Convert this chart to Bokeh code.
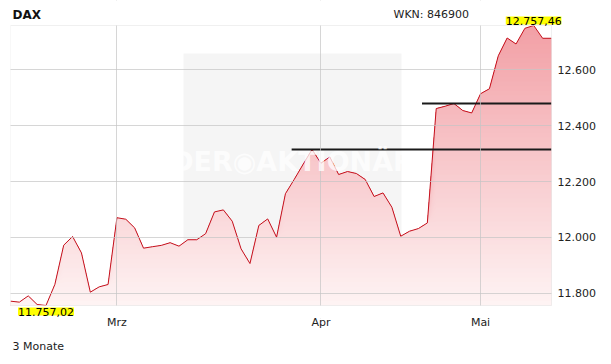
import numpy as np
from bokeh.plotting import figure
from bokeh.models import Range1d, FixedTicker, Label, BoxAnnotation, ColumnDataSource, Title
from bokeh.embed import file_html
from bokeh.resources import INLINE

# ---------------- data ----------------
title_text = "DAX"
wkn_text = "WKN: 846900"
period_text = "3 Monate"
watermark_text = "DER◉AKTIONÄR"

# DAX daily closes (trading-day index)
closes = [
    11772.5, 11769.0, 11791.4, 11760.7, 11757.02, 11832.0, 11972.5, 12003.6,
    11945.0, 11804.6, 11823.6, 11832.0, 12070.7, 12065.3, 12034.3, 11961.8,
    11967.0, 11971.8, 11981.4, 11969.0, 11992.0, 11992.0, 12013.6, 12091.4,
    12098.6, 12058.2, 11959.3, 11907.0, 12042.9, 12066.4, 12001.0, 12156.4,
    12208.0, 12261.8, 12314.3, 12265.3, 12287.9, 12225.0, 12235.7, 12228.6,
    12207.0, 12146.4, 12159.3, 12108.2, 12004.6, 12022.5, 12032.0, 12052.0,
    12460.7, 12468.9, 12478.6, 12453.6, 12445.0, 12513.6, 12531.4, 12649.3,
    12712.9, 12691.4, 12747.5, 12757.46, 12711.8, 12711.8,
]
month_labels = ["Mrz", "Apr", "Mai"]
month_start_idx = [12, 35, 53]
y_ticks = [11800, 12000, 12200, 12400, 12600]
resistance_levels = [12314.3, 12478.6]
resistance_start_idx = [31.7, 46.4]

# ---------------- layout (pixels) ----------------
W, H = 611, 364
BORDER_L, BORDER_R, BORDER_B = 10, 50, 46      # frame = plot box + room for outside labels
PAD_TOP, PAD_RIGHT, PAD_BOTTOM = 25, 10, 13     # room inside frame above/right/below the chart box

y = np.array(closes)
x = np.arange(len(y))
n = len(y)
ymin, ymax = float(y.min()), float(y.max())
imin, imax = int(y.argmin()), int(y.argmax())

frame_w = W - BORDER_L - BORDER_R
frame_h = H - BORDER_B
box_w = frame_w - PAD_RIGHT
box_h = frame_h - PAD_TOP - PAD_BOTTOM
x_end = (n - 1) * frame_w / box_w
dpp = (ymax - ymin) / box_h
y_start = ymin - PAD_BOTTOM * dpp
y_end = ymax + PAD_TOP * dpp

p = figure(width=W, height=H, output_backend="svg", toolbar_location=None,
           x_range=Range1d(0, x_end), y_range=Range1d(y_start, y_end),
           y_axis_location="right",
           min_border_left=BORDER_L, min_border_right=BORDER_R,
           min_border_top=0, min_border_bottom=BORDER_B)
p.background_fill_color = "white"
p.border_fill_color = "white"
p.outline_line_color = None

FONT = "DejaVu Sans"
TXT = "#222222"

# grids (drawn above the area fill)
p.xgrid.ticker = FixedTicker(ticks=month_start_idx)
p.ygrid.ticker = FixedTicker(ticks=y_ticks)
for g in (p.xgrid, p.ygrid):
    g.grid_line_color = "#c4c4c4"
    g.grid_line_alpha = 0.7
    g.grid_line_width = 1
    g.level = "annotation"

# axes
xa = p.xaxis[0]
xa.ticker = FixedTicker(ticks=month_start_idx)
xa.major_label_overrides = {i: lab for i, lab in zip(month_start_idx, month_labels)}
ya = p.yaxis[0]
ya.ticker = FixedTicker(ticks=y_ticks)
ya.major_label_overrides = {t: f"{t:,}".replace(",", ".") for t in y_ticks}
for a in (xa, ya):
    a.axis_line_color = None
    a.major_tick_line_color = None
    a.minor_tick_line_color = None
    a.major_tick_out = 0
    a.major_tick_in = 0
    a.major_label_text_font = FONT
    a.major_label_text_font_size = "11px"
    a.major_label_text_color = TXT
    a.level = "overlay"
xa.major_label_standoff = -3
ya.major_label_standoff = -4

# footer
p.add_layout(Title(text=period_text, align="left", text_font=FONT, text_font_size="11px",
                   text_font_style="normal", text_color=TXT, offset=2, standoff=12), "below")

# watermark box (behind)
p.add_layout(BoxAnnotation(left=173, right=391, bottom=48, top=265,
                           left_units="screen", right_units="screen",
                           bottom_units="screen", top_units="screen",
                           fill_color="black", fill_alpha=0.04, line_color=None,
                           level="underlay"))

# gradient area fill (top colour first, lower layers painted over it)
c_top = np.array([242, 160, 166])
c_bot = np.array([254, 244, 244])
n_layers = 60
levels = np.linspace(ymax, ymin, n_layers + 1)
for k in range(n_layers):
    lev = levels[k]
    t = (lev - ymin) / (ymax - ymin)
    c = c_bot + (c_top - c_bot) * t
    col = "#%02x%02x%02x" % tuple(int(round(v)) for v in c)
    p.varea(x=x, y1=np.full_like(y, ymin), y2=np.minimum(y, lev), fill_color=col, fill_alpha=1.0)

# price line
p.line(x, y, line_color="#c4101c", line_width=1)

# resistance lines
rs = ColumnDataSource(dict(x0=resistance_start_idx, x1=[n - 1] * len(resistance_levels),
                           y0=resistance_levels, y1=resistance_levels))
p.segment(x0="x0", y0="y0", x1="x1", y1="y1", source=rs, line_color="#1a1a1a", line_width=2)

# white masks outside the chart box (hide grid overhang)
for kw in (dict(bottom=ymax), dict(top=ymin), dict(left=n - 1)):
    p.add_layout(BoxAnnotation(fill_color="white", fill_alpha=1.0, line_color=None,
                               level="annotation", **kw))

# chart box outline
p.add_layout(BoxAnnotation(left=0, right=n - 1, bottom=ymin, top=ymax, fill_color=None,
                           fill_alpha=0, line_color="#cccccc", line_width=1, level="annotation"))

# watermark text
p.add_layout(Label(x=282, y=157, x_units="screen", y_units="screen",
                   text=watermark_text, text_font=FONT, text_font_style="bold",
                   text_font_size="27px", text_color="white", text_alpha=0.75,
                   text_align="center", text_baseline="middle", level="overlay"))

# max / min labels
def fmt_de(v):
    return f"{v:,.2f}".replace(",", "X").replace(".", ",").replace("X", ".")

p.add_layout(Label(x=imax, y=ymax, text=fmt_de(ymax), text_font=FONT, text_font_size="11px",
                   text_color="black", text_align="center", text_baseline="bottom",
                   y_offset=1, background_fill_color="#ffff00", level="overlay"))
p.add_layout(Label(x=imin, y=ymin, text=fmt_de(ymin), text_font=FONT, text_font_size="11px",
                   text_color="black", text_align="center", text_baseline="top",
                   y_offset=-2, background_fill_color="#ffff00", level="overlay"))

# header texts
p.add_layout(Label(x=2, y=frame_h - 14, x_units="screen", y_units="screen", text=title_text,
                   text_font=FONT, text_font_style="bold", text_font_size="12px",
                   text_color="#111111", text_baseline="middle", level="overlay"))
p.add_layout(Label(x=383, y=frame_h - 14, x_units="screen", y_units="screen", text=wkn_text,
                   text_font=FONT, text_font_size="11px", text_color=TXT,
                   text_baseline="middle", level="overlay"))

open("out.html", "w").write(file_html(p, INLINE))
